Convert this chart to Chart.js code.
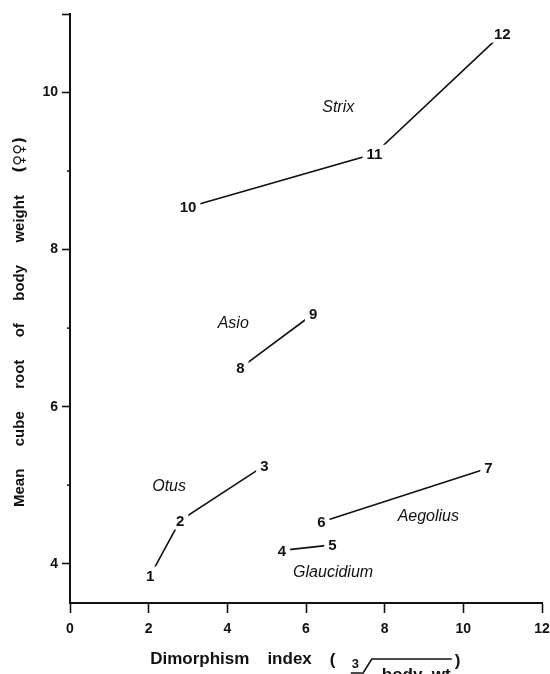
<!DOCTYPE html>
<html>
<head>
<meta charset="utf-8">
<script src="https://cdn.jsdelivr.net/npm/chart.js@4.4.1/dist/chart.umd.min.js"></script>
<style>
    body { margin: 0; background: #fff; }
    #wrap { width: 550px; height: 674px; }
</style>
</head>
<body>
<div id="wrap"><canvas id="chart" width="550" height="674"></canvas></div>
<script>
// Numbered owl samples (label = point)
const pointIds = [1, 2, 3, 4, 5, 6, 7, 8, 9, 10, 11, 12];
const dimorphismIndex = [2.04, 2.80, 4.94, 5.39, 6.67, 6.39, 10.64, 4.33, 6.18, 3.00, 7.74, 10.99];
const cubeRootWeight = [3.85, 4.55, 5.25, 4.17, 4.24, 4.53, 5.22, 6.49, 7.18, 8.54, 9.22, 10.75];

// Genera and which numbered points belong to each
const genera = ['Otus', 'Glaucidium', 'Aegolius', 'Asio', 'Strix'];
const genusMembers = [[1, 2, 3], [4, 5], [6, 7], [8, 9], [10, 11, 12]];
const genusLabelX = [2.52, 6.69, 9.11, 4.15, 6.82];
const genusLabelY = [4.98, 3.89, 4.60, 7.06, 9.81];

// Axis ticks
const xTicks = [0, 2, 4, 6, 8, 10, 12];
const yTicks = [4, 6, 8, 10];
const yMinorTicks = [5, 7, 9];
const yTopTick = 11;

const INK = '#111';
const FONT = '"Liberation Sans", Arial, sans-serif';

const datasets = genusMembers.map((ids, i) => ({
    label: genera[i],
    data: ids.map(id => ({ x: dimorphismIndex[id - 1], y: cubeRootWeight[id - 1] })),
    showLine: true,
    borderColor: INK,
    borderWidth: 1.6,
    pointRadius: 0,
    fill: false
}));

// Number labels (white patch behind, so lines stop short of them), genus names, minor ticks
const annotate = {
    id: 'annotate',
    afterDatasetsDraw(chart) {
        const { ctx, scales: { x, y } } = chart;
        ctx.save();
        ctx.textAlign = 'center';
        ctx.textBaseline = 'middle';

        ctx.font = 'bold 15px ' + FONT;
        pointIds.forEach((id, i) => {
            const px = x.getPixelForValue(dimorphismIndex[i]);
            const py = y.getPixelForValue(cubeRootWeight[i]);
            const txt = String(id);
            const w = ctx.measureText(txt).width;
            ctx.fillStyle = '#fff';
            ctx.fillRect(px - w / 2 - 4, py - 9, w + 8, 18);
            ctx.fillStyle = INK;
            ctx.fillText(txt, px, py + 1);
        });

        ctx.font = 'italic 16px ' + FONT;
        genera.forEach((g, i) => {
            ctx.fillText(g, x.getPixelForValue(genusLabelX[i]), y.getPixelForValue(genusLabelY[i]));
        });

        // small minor ticks on the y axis
        ctx.strokeStyle = INK;
        ctx.lineWidth = 1.5;
        yMinorTicks.forEach(v => {
            const py = y.getPixelForValue(v);
            ctx.beginPath();
            ctx.moveTo(chart.chartArea.left - 3, py);
            ctx.lineTo(chart.chartArea.left, py);
            ctx.stroke();
        });
        ctx.restore();
    },
    afterDraw(chart) {
        const { ctx, chartArea } = chart;
        ctx.save();
        ctx.fillStyle = INK;
        ctx.strokeStyle = INK;

        // y title, words spread along the axis
        const yWords = ['Mean', 'cube', 'root', 'of', 'body', 'weight', '(\u2640\u2640)'];
        const yFonts = yWords.map((wd, i) => i === yWords.length - 1
            ? 'bold 15px "DejaVu Sans", sans-serif' : 'bold 15px ' + FONT);
        const yLen = 370;
        const widths = yWords.map((wd, i) => { ctx.font = yFonts[i]; return ctx.measureText(wd).width; });
        const gap = (yLen - widths.reduce((a, b) => a + b, 0)) / (yWords.length - 1);
        ctx.translate(20, 322);
        ctx.rotate(-Math.PI / 2);
        ctx.textAlign = 'left';
        ctx.textBaseline = 'middle';
        let pos = -yLen / 2;
        yWords.forEach((wd, i) => {
            ctx.font = yFonts[i];
            ctx.fillText(wd, pos, 0);
            pos += widths[i] + gap;
        });
        ctx.setTransform(1, 0, 0, 1, 0, 0);

        // x title: Dimorphism index ( cube root of body wt ... )
        ctx.font = 'bold 17px ' + FONT;
        ctx.textBaseline = 'alphabetic';
        const base = 664;
        const wD = ctx.measureText('Dimorphism').width;
        const wI = ctx.measureText('index').width;
        const total = wD + 18 + wI + 18 + 132;
        let sx = (chartArea.left + chartArea.right) / 2 - total / 2;
        ctx.fillText('Dimorphism', sx, base);
        sx += wD + 18;
        ctx.fillText('index', sx, base);
        sx += wI + 18;
        const P = sx;
        ctx.fillText('(', P, base + 1);
        ctx.font = 'bold 13px ' + FONT;
        ctx.fillText('3', P + 22, base + 4);
        ctx.lineWidth = 1.6;
        ctx.beginPath();
        ctx.moveTo(P + 21, base + 9);
        ctx.lineTo(P + 32, base + 9);
        ctx.moveTo(P + 32, base + 11);
        ctx.lineTo(P + 42, base - 5);
        ctx.lineTo(P + 122, base - 5);
        ctx.stroke();
        ctx.font = 'bold 17px ' + FONT;
        ctx.fillText('body  wt', P + 52, base + 16);
        ctx.fillText(')', P + 125, base + 2);
        ctx.restore();
    }
};

new Chart(document.getElementById('chart'), {
    type: 'scatter',
    data: { datasets },
    options: {
        responsive: false,
        animation: false,
        layout: { padding: { top: 14, right: 8, left: 0, bottom: 0 } },
        plugins: { legend: { display: false }, tooltip: { enabled: false } },
        scales: {
            x: {
                type: 'linear',
                min: 0,
                max: 12,
                afterBuildTicks: s => { s.ticks = xTicks.map(v => ({ value: v })); },
                afterFit: s => { s.height = 71; s.paddingLeft = 0; s.paddingRight = 0; },
                ticks: { color: INK, font: { family: FONT, size: 14, weight: 'bold' }, padding: 8, maxRotation: 0 },
                grid: { drawOnChartArea: false, drawTicks: true, tickLength: 10, tickColor: INK, tickWidth: 1.6 },
                border: { color: INK, width: 2 }
            },
            y: {
                type: 'linear',
                min: 3.5,
                max: 11,
                afterBuildTicks: s => { s.ticks = yTicks.concat([yTopTick]).map(v => ({ value: v })); },
                afterFit: s => { s.width = 70; s.paddingTop = 0; s.paddingBottom = 0; },
                ticks: {
                    color: INK,
                    font: { family: FONT, size: 14, weight: 'bold' },
                    padding: 4,
                    callback: v => yTicks.includes(v) ? String(v) : ''
                },
                grid: { drawOnChartArea: false, drawTicks: true, tickLength: 8, tickColor: INK, tickWidth: 1.6 },
                border: { color: INK, width: 2 }
            }
        }
    },
    plugins: [annotate]
});
</script>
</body>
</html>
